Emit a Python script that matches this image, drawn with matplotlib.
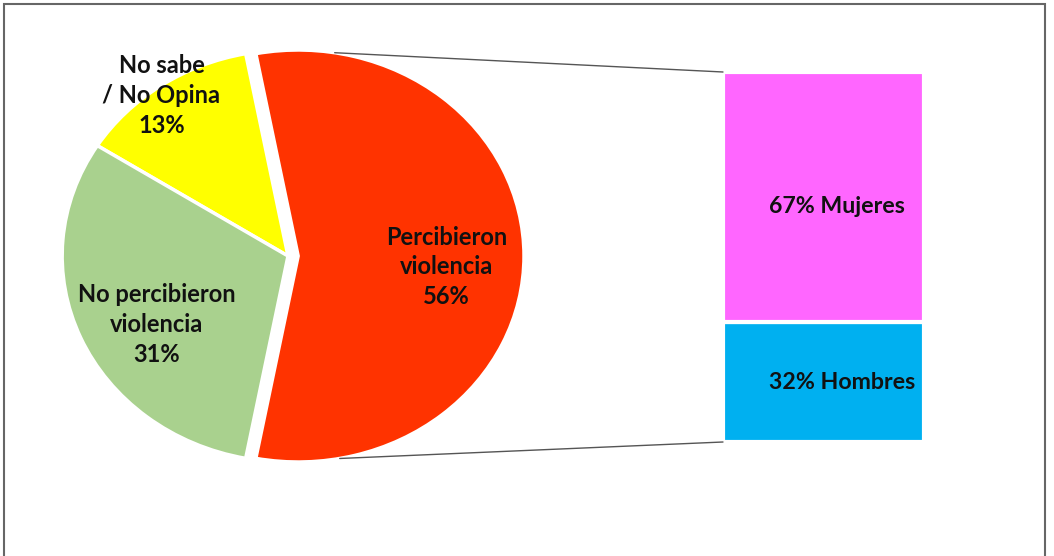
import matplotlib.pyplot as plt
import numpy as np
from matplotlib.patches import ConnectionPatch, Rectangle

# pie data
pie_labels = ["Percibieron\nviolencia", "No sabe\n/ No Opina", "No percibieron\nviolencia"]
pie_values = [56, 13, 31]
pie_colors = ["#FF3300", "#FFFF00", "#A9D18E"]

# breakdown of "Percibieron violencia"
bar_labels = ["Hombres", "Mujeres"]
bar_values = [32, 67]
bar_colors = ["#00B0F0", "#FF66FF"]

W, H = 1054, 556
fig = plt.figure(figsize=(W / 100, H / 100), dpi=100)
plt.rcParams["font.family"] = ["Lato", "DejaVu Sans"]


def px_axes(left, top, width, height):
    return fig.add_axes([left / W, 1 - (top + height) / H, width / W, height / H])


# pie, slightly squashed like the original
ax1 = px_axes(17, 8.8, 542, 494.4)
explode = [0.045, 0, 0]
start = -100.8
wedges, _ = ax1.pie(pie_values, colors=pie_colors, startangle=start,
                    explode=explode, counterclock=True,
                    wedgeprops=dict(edgecolor="white", linewidth=2.5))
ax1.set_aspect("auto")
ax1.set_xlim(-1.2, 1.2)
ax1.set_ylim(-1.2, 1.2)

label_r = [0.66, 0.96, 0.67]
label_shift = [-4.5, 1.5, 6.3]
for w, lab, val, r, sh in zip(wedges, pie_labels, pie_values, label_r, label_shift):
    mid = np.deg2rad((w.theta1 + w.theta2) / 2 + sh)
    cx, cy = w.center
    ax1.text(cx + r * np.cos(mid), cy + r * np.sin(mid), f"{lab}\n{val}%",
             ha="center", va="center", fontsize=17, fontweight="bold",
             linespacing=1.35, color="#111111")

# stacked bar
ax2 = px_axes(723, 72, 201, 370)
bottom = 0
for lab, val, col in zip(bar_labels, bar_values, bar_colors):
    ax2.bar(0, val, width=1, bottom=bottom, color=col, edgecolor="white", linewidth=3)
    ax2.text(-0.27, bottom + val / 2 + (-2.5 if lab == "Mujeres" else 0), f"{val}% {lab}",
             ha="left", va="center", fontsize=16.7, fontweight="bold", color="#111111")
    bottom += val
ax2.set_xlim(-0.5, 0.5)
ax2.set_ylim(0, bottom)
ax2.axis("off")

# connector lines from the red wedge to the bar
red = wedges[0]
cx, cy = red.center
for ang, yb in [(80.7, bottom), (-79.4, 0)]:
    a = np.deg2rad(ang)
    con = ConnectionPatch(xyA=(-0.5, yb), coordsA=ax2.transData,
                          xyB=(cx + np.cos(a), cy + np.sin(a)), coordsB=ax1.transData,
                          color="#555555", linewidth=1)
    fig.add_artist(con)

# outer frame
fig.add_artist(Rectangle((4 / W, -0.05), 1041 / W, 1.05 - 4 / H, transform=fig.transFigure,
                         fill=False, edgecolor="#666666", linewidth=1.5))

fig.savefig("out.png", dpi=100)
